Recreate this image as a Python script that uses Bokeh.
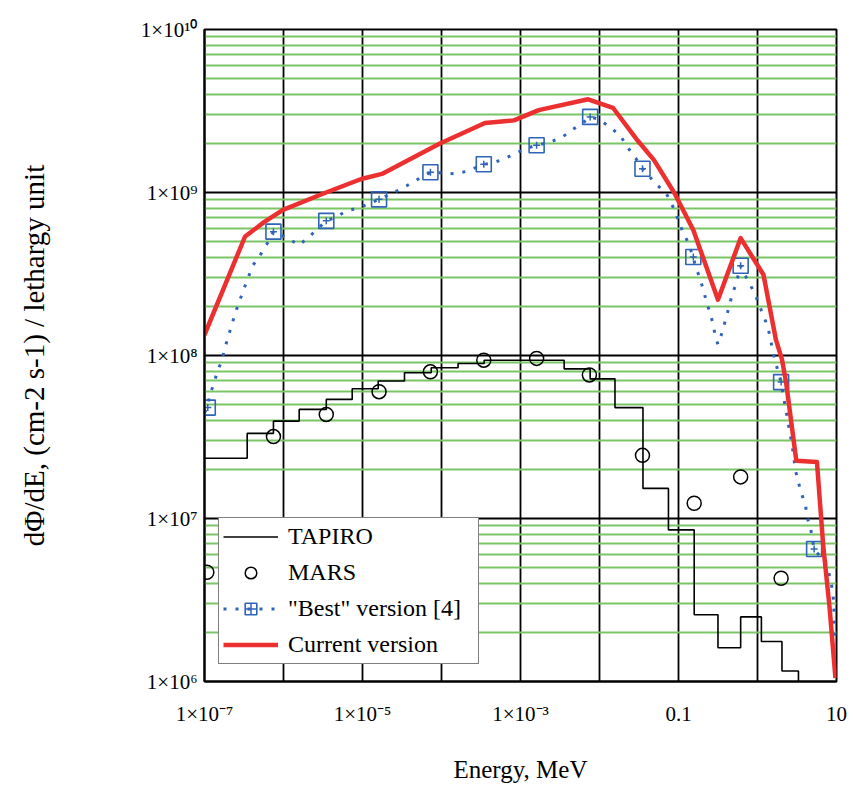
from bokeh.plotting import figure
from bokeh.models import FixedTicker, Legend, LegendItem
from bokeh.embed import file_html
from bokeh.resources import INLINE

# ---------------- data ----------------
# TAPIRO histogram: bin edges (MeV) and flux per bin
tapiro_edges = [1.0e-7, 3.47e-7, 7.46e-7, 1.58e-6, 3.48e-6, 7.41e-6, 1.58e-5, 3.40e-5,
                7.41e-5, 1.62e-4, 3.47e-4, 3.57e-3, 7.62e-3, 1.57e-2, 3.55e-2, 7.46e-2,
                0.158, 0.316, 0.612, 1.12, 2.04, 3.30, 10.0]
tapiro_flux = [2.34e7, 3.33e7, 3.96e7, 4.67e7, 5.38e7, 6.25e7, 6.97e7, 7.83e7,
               8.41e7, 8.93e7, 9.35e7, 8.28e7, 7.19e7, 4.79e7, 1.53e7, 8.51e6,
               2.57e6, 1.61e6, 2.49e6, 1.76e6, 1.16e6, 8.0e5]

# MARS points
mars_E = [1.07e-7, 7.46e-7, 3.48e-6, 1.62e-5, 7.24e-5, 3.43e-4, 1.60e-3, 7.45e-3,
          3.50e-2, 0.158, 0.612, 1.99]
mars_flux = [4.68e6, 3.18e7, 4.35e7, 6.0e7, 7.94e7, 9.36e7, 9.6e7, 7.6e7,
             2.44e7, 1.24e7, 1.8e7, 4.3e6]

# "Best" version [4]: dense dotted curve
best_E = [1.0e-7, 1.10e-7, 1.15e-7, 1.32e-7, 1.45e-7, 1.66e-7, 1.82e-7, 2.45e-7, 3.16e-7,
          4.07e-7, 5.13e-7, 6.46e-7, 7.46e-7, 1.12e-6, 1.58e-6, 2.24e-6, 3.48e-6, 4.47e-6,
          6.31e-6, 9.12e-6, 1.62e-5, 2.51e-5, 3.63e-5, 5.25e-5, 7.24e-5, 1.05e-4, 1.48e-4,
          2.09e-4, 3.43e-4, 4.27e-4, 6.03e-4, 8.51e-4, 1.17e-3, 1.60e-3, 2.40e-3, 3.39e-3,
          4.79e-3, 6.76e-3, 7.62e-3, 9.77e-3, 1.36e-2, 1.83e-2, 2.24e-2, 2.88e-2, 3.50e-2,
          5.01e-2, 7.08e-2, 8.51e-2, 9.77e-2, 0.111, 0.130, 0.154, 0.163, 0.185, 0.204,
          0.226, 0.251, 0.275, 0.292, 0.316, 0.356, 0.389, 0.427, 0.470, 0.525, 0.577,
          0.612, 0.752, 0.912, 1.05, 1.20, 1.36, 1.47, 1.57, 1.71, 1.99, 2.16, 2.30, 2.44,
          2.59, 2.75, 3.02, 3.30, 3.63, 4.06, 4.25, 4.73, 5.21, 7.66, 8.83, 9.16, 9.44, 9.66]
best_flux = [4.47e7, 4.79e7, 5.62e7, 6.76e7, 7.94e7, 9.33e7, 1.12e8, 1.82e8, 2.57e8,
             3.55e8, 4.17e8, 5.01e8, 5.75e8, 5.25e8, 4.75e8, 5.50e8, 6.70e8, 7.02e8,
             7.71e8, 8.07e8, 9.08e8, 1.0e9, 1.10e9, 1.22e9, 1.33e9, 1.32e9, 1.30e9,
             1.35e9, 1.49e9, 1.51e9, 1.60e9, 1.73e9, 1.86e9, 1.95e9, 2.04e9, 2.19e9,
             2.47e9, 2.77e9, 2.91e9, 2.82e9, 2.51e9, 2.24e9, 1.91e9, 1.62e9, 1.40e9,
             1.15e9, 9.77e8, 8.18e8, 6.92e8, 5.89e8, 5.01e8, 4.02e8, 3.55e8, 3.02e8, 2.57e8,
             2.14e8, 1.82e8, 1.55e8, 1.31e8, 1.17e8, 1.38e8, 1.62e8, 1.91e8, 2.29e8, 2.69e8, 3.16e8,
             3.55e8, 2.88e8, 2.44e8, 2.04e8, 1.74e8, 1.48e8, 1.24e8, 1.05e8, 8.91e7, 6.87e7,
             5.37e7, 4.57e7, 3.89e7, 3.29e7, 2.79e7, 1.98e7, 1.66e7, 1.41e7, 1.20e7, 1.02e7,
             8.51e6, 6.50e6, 5.13e6, 3.72e6, 3.16e6, 2.24e6, 1.91e6]
# "Best" version [4]: square markers
best_sq_E = [1.10e-7, 7.46e-7, 3.48e-6, 1.62e-5, 7.24e-5, 3.43e-4, 1.60e-3, 7.62e-3,
             3.50e-2, 0.154, 0.612, 1.99, 5.21]
best_sq_flux = [4.79e7, 5.75e8, 6.70e8, 9.08e8, 1.33e9, 1.49e9, 1.95e9, 2.91e9,
                1.40e9, 4.02e8, 3.55e8, 6.87e7, 6.50e6]

# Current version
cur_E = [1.0e-7, 3.26e-7, 5.73e-7, 9.86e-7, 3.27e-6, 9.66e-6, 1.76e-5, 9.55e-5, 3.55e-4,
         8.26e-4, 1.70e-3, 7.18e-3, 1.48e-2, 3.02e-2, 4.90e-2, 8.91e-2, 0.154, 0.316,
         0.612, 1.19, 1.71, 2.04, 2.30, 3.10, 5.66, 6.79, 8.13, 9.70]
cur_flux = [1.34e8, 5.37e8, 6.6e8, 7.82e8, 9.9e8, 1.21e9, 1.30e9, 2.0e9, 2.67e9,
            2.77e9, 3.2e9, 3.73e9, 3.31e9, 2.09e9, 1.58e9, 9.9e8, 5.89e8, 2.2e8,
            5.25e8, 3.13e8, 1.25e8, 9.46e7, 6.84e7, 2.26e7, 2.22e7, 6.82e6, 2.92e6, 1.05e6]

# axes
x_ticks = [1e-7, 1e-6, 1e-5, 1e-4, 1e-3, 1e-2, 0.1, 1.0, 10.0]
x_tick_labels = ["1×10⁻⁷", "", "1×10⁻⁵", "", "1×10⁻³", "", "0.1", "", "10"]
y_ticks = [1e6, 1e7, 1e8, 1e9, 1e10]
y_tick_labels = ["1×10⁶", "1×10⁷", "1×10⁸", "1×10⁹", "1×10¹⁰"]
y_minor = [m * d for d in [1e6, 1e7, 1e8, 1e9] for m in range(2, 10)]

FONT = "Liberation Serif"
RED = "#ec3030"
BLUE = "#2f64b8"
GREEN = "#7cc566"

p = figure(width=850, height=785, x_axis_type="log", y_axis_type="log",
           x_range=(1e-7, 10), y_range=(1e6, 1e10),
           output_backend="svg", toolbar_location=None,
           min_border_left=204, min_border_right=14, min_border_top=29, min_border_bottom=102)
p.background_fill_color = "white"
p.border_fill_color = "white"
p.outline_line_color = "black"
p.outline_line_width = 2

# ticks / grids
p.xaxis.ticker = FixedTicker(ticks=x_ticks, minor_ticks=[])
p.yaxis.ticker = FixedTicker(ticks=y_ticks, minor_ticks=y_minor)
p.xaxis.major_label_overrides = {t: s for t, s in zip(x_ticks, x_tick_labels)}
p.yaxis.major_label_overrides = {t: s for t, s in zip(y_ticks, y_tick_labels)}

p.xgrid.grid_line_color = "black"
p.xgrid.grid_line_width = 1.8
p.ygrid.grid_line_color = "black"
p.ygrid.grid_line_width = 1.8
p.ygrid.minor_grid_line_color = GREEN
p.ygrid.minor_grid_line_width = 1.8
p.xgrid.level = "underlay"
p.ygrid.level = "underlay"

for ax in (p.xaxis, p.yaxis):
    ax.axis_line_color = "black"
    ax.axis_line_width = 2
    ax.major_tick_line_color = None
    ax.minor_tick_line_color = None
    ax.major_tick_out = 0
    ax.major_tick_in = 0
    ax.minor_tick_out = 0
    ax.minor_tick_in = 0
    ax.major_label_text_font = FONT
    ax.major_label_text_font_size = "21px"
    ax.major_label_text_color = "black"
    ax.axis_label_text_font = FONT
    ax.axis_label_text_font_style = "normal"
    ax.axis_label_text_color = "black"

p.xaxis.major_label_standoff = 20
p.yaxis.major_label_standoff = 7
p.xaxis.axis_label = "Energy, MeV"
p.xaxis.axis_label_text_font_size = "25px"
p.xaxis.axis_label_standoff = 27
p.yaxis.axis_label = "dΦ/dE, (cm-2 s-1) / lethargy unit"
p.yaxis.axis_label_text_font_size = "29px"
p.yaxis.axis_label_standoff = 88

# series
r_tap = p.step(x=tapiro_edges, y=tapiro_flux + [tapiro_flux[-1]], mode="after",
               line_color="black", line_width=1.6)
r_mars = p.scatter(x=mars_E, y=mars_flux, marker="circle", size=14,
                   fill_color=None, line_color="black", line_width=1.5)
r_best_line = p.line(x=best_E, y=best_flux, line_color=BLUE, line_width=3,
                     line_dash="3 9")
r_best_sq = p.scatter(x=best_sq_E, y=best_sq_flux, marker="square", size=15,
                      fill_color=None, line_color=BLUE, line_width=1.6)
r_best_cr = p.scatter(x=best_sq_E, y=best_sq_flux, marker="cross", size=7,
                      line_color=BLUE, line_width=1.5)
r_cur = p.line(x=cur_E, y=cur_flux, line_color=RED, line_width=4.5, line_join="round")

legend = Legend(items=[
    LegendItem(label="TAPIRO", renderers=[r_tap]),
    LegendItem(label="MARS", renderers=[r_mars]),
    LegendItem(label='"Best" version [4]', renderers=[r_best_line, r_best_sq, r_best_cr]),
    LegendItem(label="Current version", renderers=[r_cur]),
], location=(14, 17))
legend.background_fill_color = "white"
legend.background_fill_alpha = 1.0
legend.border_line_color = "black"
legend.border_line_width = 1.5
legend.label_text_font = FONT
legend.label_text_font_size = "24px"
legend.label_text_color = "black"
legend.glyph_width = 55
legend.glyph_height = 29
legend.label_height = 29
legend.label_width = 186
legend.label_standoff = 10
legend.spacing = 7
legend.padding = 4
legend.margin = 0
p.add_layout(legend)

open("out.html", "w").write(file_html(p, INLINE))
